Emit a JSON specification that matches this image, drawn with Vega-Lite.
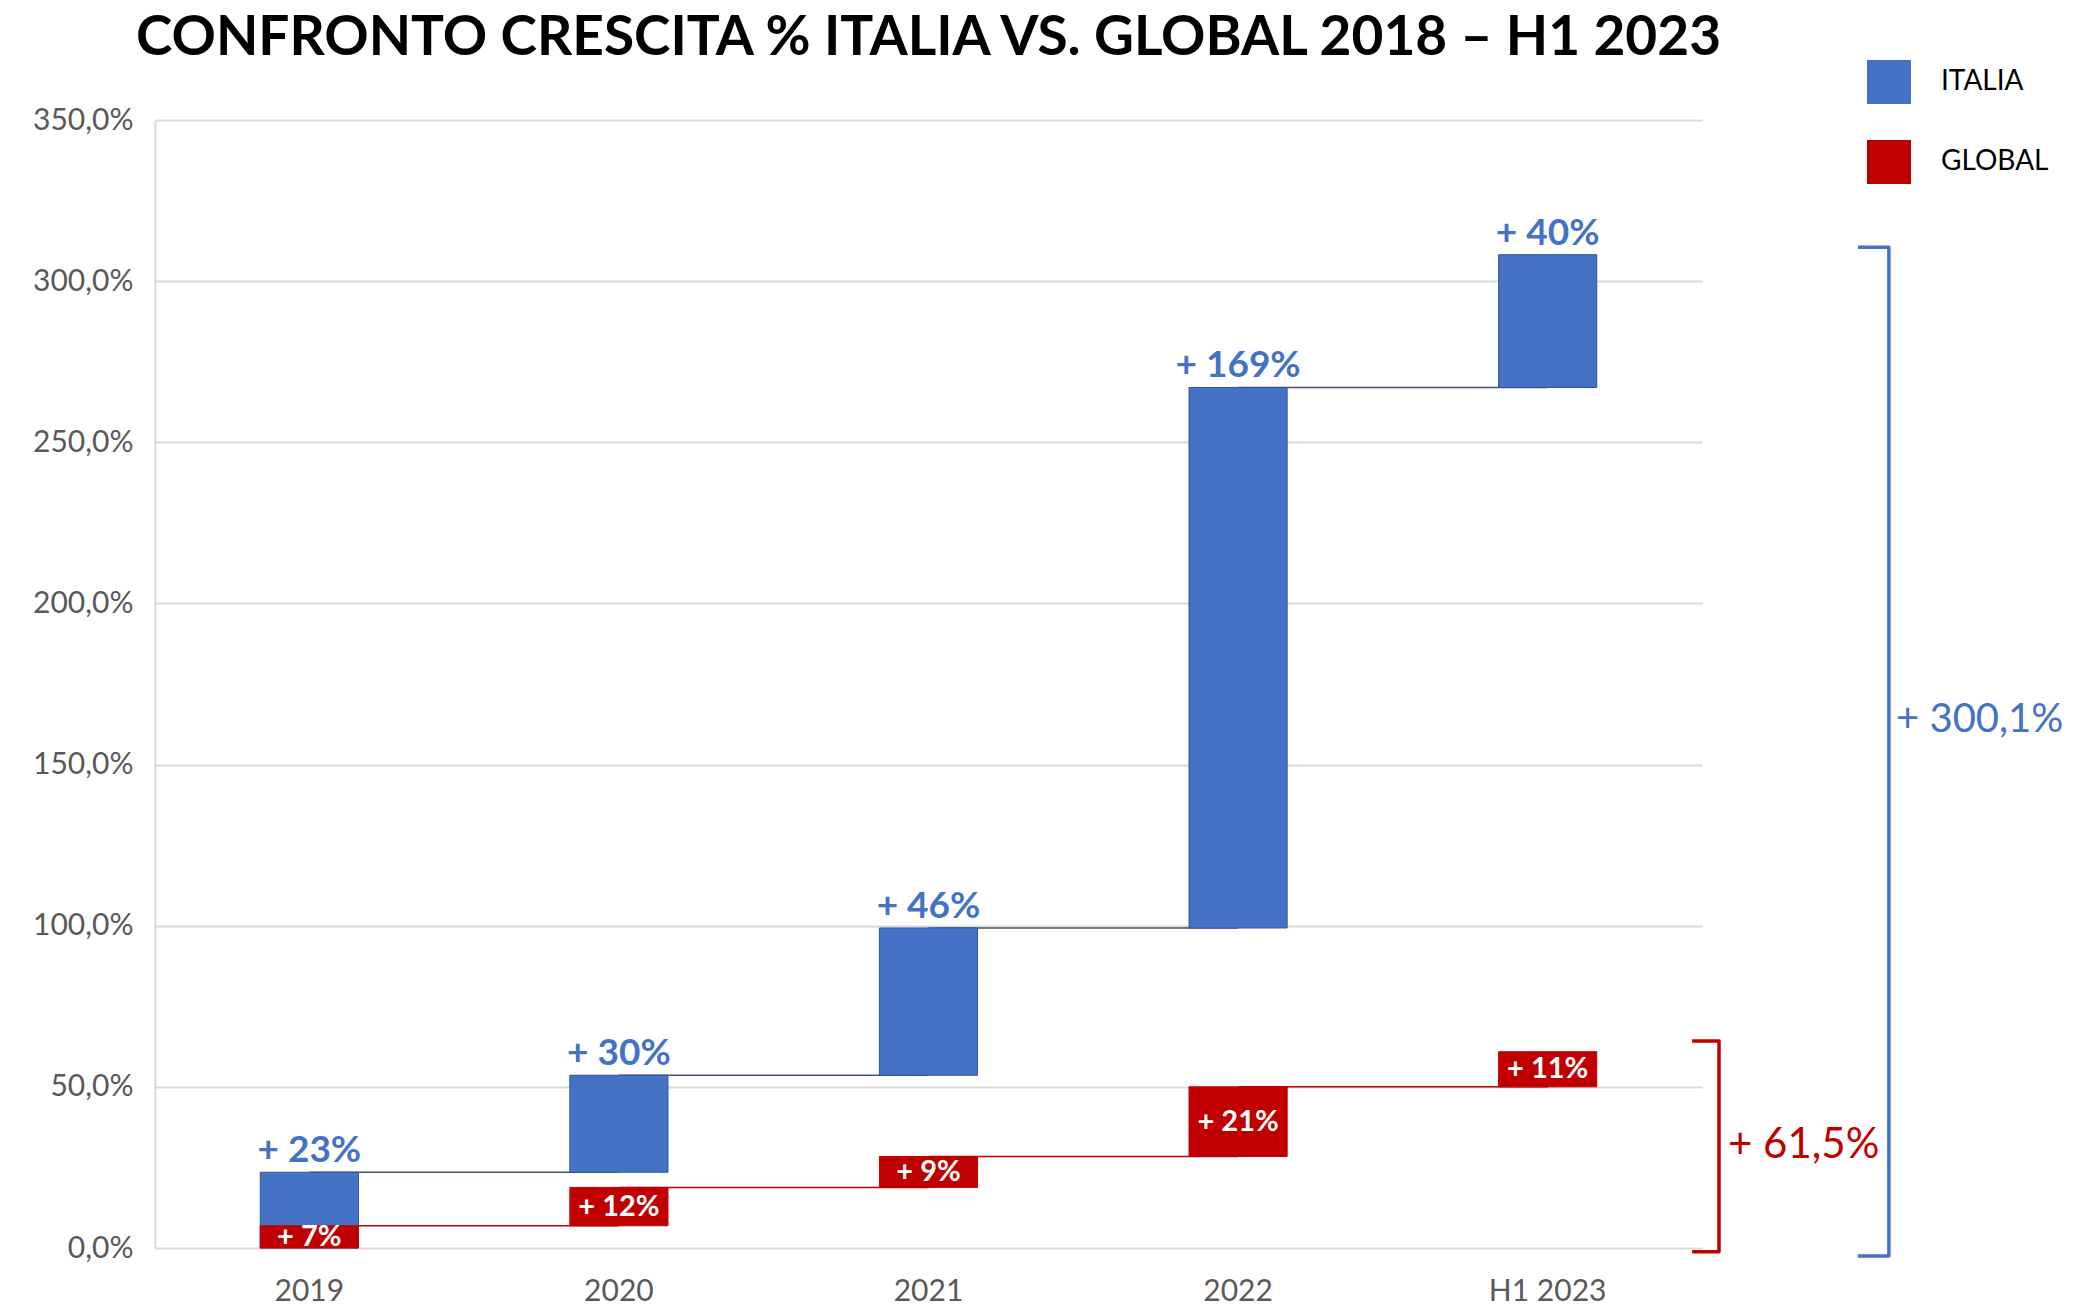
{
  "$schema": "https://vega.github.io/schema/vega-lite/v6.json",
  "autosize": {"type": "none"},
  "width": 1547,
  "height": 1128,
  "padding": {"left": 155, "top": 120, "right": 380, "bottom": 65},
  "background": "white",
  "title": {
    "text": "CONFRONTO CRESCITA % ITALIA VS. GLOBAL 2018 – H1 2023",
    "font": "Lato",
    "fontSize": 55,
    "fontWeight": "bold",
    "color": "#000000",
    "anchor": "middle",
    "frame": "group",
    "baseline": "alphabetic",
    "offset": 7,
    "dy": 57
  },
  "config": {
    "view": {"stroke": null},
    "font": "Lato",
    "legend": {
      "padding": 0
    }
  },
  "datasets": {
    "bars": [
      {"cat": "2019", "next": "2020", "series": "ITALIA", "start": 0, "end": 23.5, "label": "+ 23%"},
      {"cat": "2020", "next": "2021", "series": "ITALIA", "start": 23.5, "end": 53.6, "label": "+ 30%"},
      {"cat": "2021", "next": "2022", "series": "ITALIA", "start": 53.6, "end": 99.3, "label": "+ 46%"},
      {"cat": "2022", "next": "H1 2023", "series": "ITALIA", "start": 99.3, "end": 267, "label": "+ 169%"},
      {"cat": "H1 2023", "next": null, "series": "ITALIA", "start": 267, "end": 308.2, "label": "+ 40%"},
      {"cat": "2019", "next": "2020", "series": "GLOBAL", "start": 0, "end": 6.9, "label": "+ 7%"},
      {"cat": "2020", "next": "2021", "series": "GLOBAL", "start": 6.9, "end": 18.8, "label": "+ 12%"},
      {"cat": "2021", "next": "2022", "series": "GLOBAL", "start": 18.8, "end": 28.4, "label": "+ 9%"},
      {"cat": "2022", "next": "H1 2023", "series": "GLOBAL", "start": 28.4, "end": 50, "label": "+ 21%"},
      {"cat": "H1 2023", "next": null, "series": "GLOBAL", "start": 50, "end": 60.9, "label": "+ 11%"}
    ],
    "brackets": [
      {"series": "GLOBAL", "ord": 1, "bx": 4.968, "by": 64.2},
      {"series": "GLOBAL", "ord": 2, "bx": 5.055, "by": 64.2},
      {"series": "GLOBAL", "ord": 3, "bx": 5.055, "by": -1.2},
      {"series": "GLOBAL", "ord": 4, "bx": 4.968, "by": -1.2},
      {"series": "ITALIA", "ord": 1, "bx": 5.504, "by": 310.5},
      {"series": "ITALIA", "ord": 2, "bx": 5.604, "by": 310.5},
      {"series": "ITALIA", "ord": 3, "bx": 5.604, "by": -2.5},
      {"series": "ITALIA", "ord": 4, "bx": 5.504, "by": -2.5}
    ],
    "totals": [
      {"series": "GLOBAL", "bx": 5.084, "by": 31.9, "text": "+ 61,5%"},
      {"series": "ITALIA", "bx": 5.627, "by": 163.7, "text": "+ 300,1%"}
    ]
  },
  "layer": [
    {
      "data": {"name": "bars"},
      "encoding": {
        "x": {
          "field": "cat",
          "type": "nominal",
          "sort": ["2019", "2020", "2021", "2022", "H1 2023"],
          "scale": {"paddingInner": 0.683, "paddingOuter": 0.34},
          "axis": {
            "title": null,
            "labelAngle": 0,
            "labelFont": "Lato",
            "labelFontSize": 30,
            "labelColor": "#595959",
            "labelPadding": 28,
            "ticks": false,
            "domain": false,
            "grid": false
          }
        }
      },
      "layer": [
        {
          "transform": [{"filter": "datum.next != null && datum.series === 'ITALIA'"}],
          "mark": {"type": "rule", "color": "#44546A", "strokeWidth": 1.5},
          "encoding": {
            "x2": {"field": "next"},
            "y": {
              "field": "end",
              "type": "quantitative",
              "scale": {"domain": [0, 350], "nice": false, "zero": true},
              "axis": {
                "title": null,
                "values": [0, 50, 100, 150, 200, 250, 300, 350],
                "labelExpr": "replace(format(datum.value, '.1f'), '.', ',') + '%'",
                "labelFont": "Lato",
                "labelFontSize": 30,
                "labelColor": "#595959",
                "labelPadding": 22,
                "ticks": false,
                "domain": true,
                "domainColor": "#D9D9D9",
                "domainWidth": 2,
                "grid": true,
                "gridColor": "#D9D9D9",
                "gridWidth": 2
              }
            }
          }
        },
        {
          "transform": [{"filter": "datum.next != null && datum.series === 'GLOBAL'"}],
          "mark": {"type": "rule", "color": "#C00000", "strokeWidth": 1.5},
          "encoding": {
            "x2": {"field": "next"},
            "y": {"field": "end", "type": "quantitative"}
          }
        },
        {
          "mark": {"type": "bar", "strokeWidth": 1},
          "encoding": {
            "y": {"field": "start", "type": "quantitative"},
            "y2": {"field": "end"},
            "color": {
              "field": "series",
              "type": "nominal",
              "scale": {"domain": ["ITALIA", "GLOBAL"], "range": ["#4472C4", "#C00000"]},
              "legend": {
                "title": null,
                "orient": "none",
                "legendX": 1712,
                "legendY": -60,
                "symbolType": "square",
                "symbolSize": 1936,
                "symbolStrokeWidth": 0,
                "labelFont": "Lato",
                "labelFontSize": 28,
                "labelColor": "#000000",
                "labelOffset": 30,
                "rowPadding": 36
              }
            },
            "stroke": {
              "field": "series",
              "type": "nominal",
              "scale": {"domain": ["ITALIA", "GLOBAL"], "range": ["#2F5597", "#C00000"]},
              "legend": null
            }
          }
        },
        {
          "transform": [{"filter": "datum.series === 'ITALIA'"}],
          "mark": {"type": "text", "font": "Lato", "fontSize": 37, "fontWeight": "bold", "color": "#4472C4", "baseline": "alphabetic", "dy": -10},
          "encoding": {
            "y": {"field": "end", "type": "quantitative"},
            "text": {"field": "label"}
          }
        },
        {
          "transform": [
            {"filter": "datum.series === 'GLOBAL'"},
            {"fold": ["start", "end"], "as": ["k", "v"]},
            {"aggregate": [{"op": "mean", "field": "v", "as": "mid"}], "groupby": ["cat", "label"]}
          ],
          "mark": {"type": "text", "font": "Lato", "fontSize": 29, "fontWeight": "bold", "color": "#FFFFFF", "baseline": "middle"},
          "encoding": {
            "y": {"field": "mid", "type": "quantitative"},
            "text": {"field": "label"}
          }
        }
      ]
    },
    {
      "layer": [
        {
          "data": {"name": "brackets"},
          "transform": [{"filter": "datum.series === 'GLOBAL'"}],
          "mark": {"type": "line", "color": "#C00000", "strokeWidth": 3.5, "strokeJoin": "round"},
          "encoding": {
            "x": {"field": "bx", "type": "quantitative", "scale": {"domain": [0, 5], "nice": false, "zero": false}, "axis": null},
            "y": {"field": "by", "type": "quantitative"},
            "order": {"field": "ord"}
          }
        },
        {
          "data": {"name": "brackets"},
          "transform": [{"filter": "datum.series === 'ITALIA'"}],
          "mark": {"type": "line", "color": "#4472C4", "strokeWidth": 3.5, "strokeJoin": "round"},
          "encoding": {
            "x": {"field": "bx", "type": "quantitative", "axis": null},
            "y": {"field": "by", "type": "quantitative"},
            "order": {"field": "ord"}
          }
        },
        {
          "data": {"name": "totals"},
          "transform": [{"filter": "datum.series === 'GLOBAL'"}],
          "mark": {"type": "text", "font": "Lato", "fontSize": 42, "color": "#C00000", "align": "left", "baseline": "middle"},
          "encoding": {
            "x": {"field": "bx", "type": "quantitative", "axis": null},
            "y": {"field": "by", "type": "quantitative"},
            "text": {"field": "text"}
          }
        },
        {
          "data": {"name": "totals"},
          "transform": [{"filter": "datum.series === 'ITALIA'"}],
          "mark": {"type": "text", "font": "Lato", "fontSize": 40, "color": "#4472C4", "align": "left", "baseline": "middle"},
          "encoding": {
            "x": {"field": "bx", "type": "quantitative", "axis": null},
            "y": {"field": "by", "type": "quantitative"},
            "text": {"field": "text"}
          }
        }
      ]
    }
  ],
  "resolve": {"scale": {"x": "independent"}}
}
